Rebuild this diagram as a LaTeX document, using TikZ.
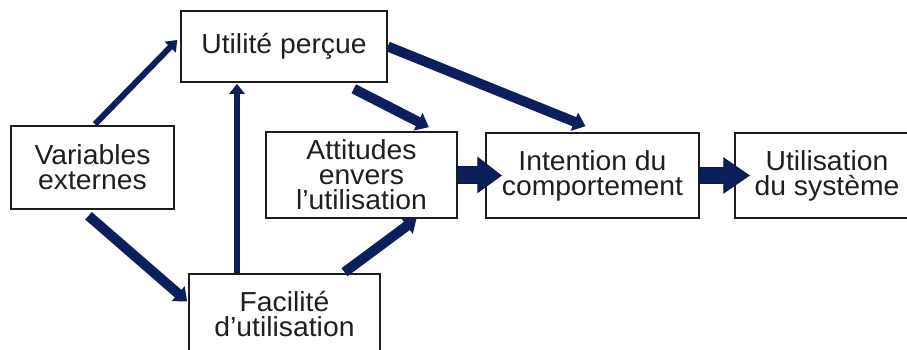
\documentclass[tikz,border=0pt]{standalone}
\usepackage{fontspec}
\setmainfont{Liberation Sans}[FakeStretch=1.03]
\usetikzlibrary{arrows.meta,calc}
\definecolor{navy}{HTML}{0B1F5C}
\definecolor{boxline}{HTML}{1E1E1E}
\definecolor{txt}{HTML}{1F1F1F}
\begin{document}
\begin{tikzpicture}[x=1pt,y=-1pt,
  box/.style={draw=boxline, line width=1.6pt, fill=white, align=center, inner sep=0pt,
    font=\fontsize{27.5}{25}\selectfont, text=txt},
  thinarrow/.style={draw=navy, line width=6pt, -{Triangle[width=15pt,length=10pt]}},
  thickarrow/.style={draw=navy, line width=10pt, -{Triangle[width=19pt,length=12pt]}},
  blockarrow/.style={fill=navy, draw=navy!70!black, line width=0.8pt, line join=miter}]
\useasboundingbox (0,0) rectangle (907,350);
\clip (0,0) rectangle (907,350);
\fill[white] (0,0) rectangle (907,350);

% boxes
\node[box, minimum width=163pt, minimum height=83pt] (var) at (92.5,167.5) {Variables\\externes};
\node[box, minimum width=206pt, minimum height=71pt] (up) at (284,46.5) {Utilité perçue};
\node[box, minimum width=191pt, minimum height=86pt] (att) at (361.5,175) {Attitudes\\envers\\l’utilisation};
\node[box, minimum width=191pt, minimum height=81pt] (fac) at (284.5,314.5) {Facilité\\d’utilisation};
\node[box, minimum width=213pt, minimum height=85pt] (int) at (592.5,175.5) {Intention du\\comportement};
\node[box, minimum width=184pt, minimum height=85pt] (use) at (827,175.5) {Utilisation\\du système};

% thin / thick connectors
\draw[thinarrow] ($(var.north)+(2.5,-1)$) -- ($(up.west)+(-3,-6.5)$);
\draw[thinarrow] ($(fac.north)+(-47.5,0)$) -- ($(up.south)+(-47,1)$);
\draw[thickarrow] ($(up.south east)+(-34,6)$) -- ($(att.north east)+(-29,-4)$);
\draw[thickarrow] (up.east) -- ($(int.north)+(-7,-6)$);
\draw[thickarrow] ($(var.south)+(-4,6)$) -- ($(fac.west)+(-1,-13)$);
\draw[thickarrow] ($(fac.north)+(60,-1)$) -- ($(att.south)+(55,0)$);

% block arrows
\path[blockarrow] ($(att.east)+(0,-8.5)$) -- ($(att.east)+(20,-8.5)$) -- ($(att.east)+(20,-17.5)$)
  -- ($(int.west)+(16,0)$) -- ($(att.east)+(20,17.5)$) -- ($(att.east)+(20,8.5)$)
  -- ($(att.east)+(0,8.5)$) -- cycle;
\path[blockarrow] ($(int.east)+(0,-8)$) -- ($(int.east)+(24,-8)$) -- ($(int.east)+(24,-17.5)$)
  -- ($(use.west)+(15,0)$) -- ($(int.east)+(24,17.5)$) -- ($(int.east)+(24,8)$)
  -- ($(int.east)+(0,8)$) -- cycle;
\end{tikzpicture}
\end{document}
